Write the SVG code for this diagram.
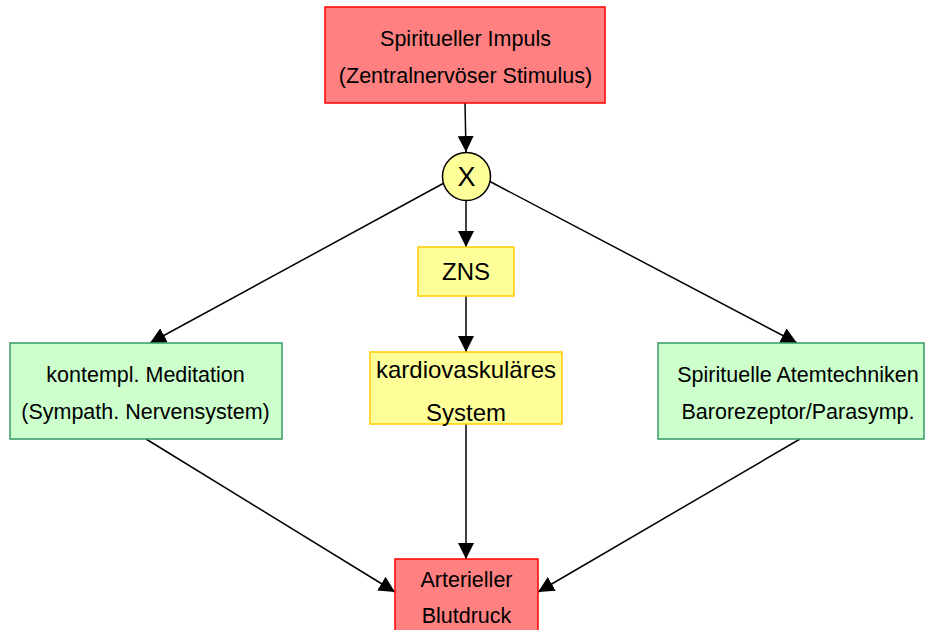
<svg xmlns="http://www.w3.org/2000/svg" width="926" height="630" viewBox="0 0 926 630">
<style>
text{font-family:"Liberation Sans",Arial,sans-serif;fill:#000;text-anchor:middle;font-size:21.5px}
.big{font-size:24px}
.red{fill:#ff8080;stroke:#ff0000;stroke-width:1.5}
.yel{fill:#ffff99;stroke:#ffcc00;stroke-width:1.5}
.grn{fill:#ccffcc;stroke:#339966;stroke-width:1.5}
.c{stroke:#000;stroke-width:1.5;fill:none;marker-end:url(#ah)}
</style>
<defs>
<marker id="ah" markerUnits="userSpaceOnUse" markerWidth="17" markerHeight="16" refX="16" refY="8" orient="auto">
<path d="M0,0 L16,8 L0,16 z" fill="#000"/>
</marker>
</defs>
<rect width="926" height="630" fill="#fff"/>
<g id="connectors">
<line class="c" x1="465" y1="103" x2="466" y2="152"/>
<line class="c" x1="466" y1="201" x2="466" y2="247"/>
<line class="c" x1="444" y1="183" x2="150" y2="343"/>
<line class="c" x1="489" y1="181" x2="797" y2="343"/>
<line class="c" x1="466" y1="296" x2="466" y2="352"/>
<line class="c" x1="466" y1="424" x2="466" y2="559"/>
<line class="c" x1="146" y1="439" x2="395" y2="592"/>
<line class="c" x1="800" y1="439" x2="538" y2="592"/>
</g>
<g id="impuls">
<rect class="red" x="325" y="7" width="280" height="96"/>
<text x="465.5" y="45.5">Spiritueller Impuls</text>
<text x="465.5" y="83">(Zentralnervöser Stimulus)</text>
</g>
<g id="x">
<circle cx="466.5" cy="176.5" r="24" fill="#ffff99" stroke="#000" stroke-width="1.5"/>
<text x="466.5" y="186" style="font-size:27px">X</text>
</g>
<g id="zns">
<rect class="yel" x="418" y="247" width="96" height="49"/>
<text class="big" x="466" y="280">ZNS</text>
</g>
<g id="kardio">
<rect class="yel" x="370" y="352" width="192" height="72"/>
<text class="big" x="466" y="378">kardiovaskuläres</text>
<text class="big" x="466" y="421">System</text>
</g>
<g id="meditation">
<rect class="grn" x="10" y="343" width="272" height="96"/>
<text x="145.5" y="382">kontempl. Meditation</text>
<text x="145.5" y="419">(Sympath. Nervensystem)</text>
</g>
<g id="atem">
<rect class="grn" x="658" y="343" width="266" height="96"/>
<text x="798" y="382">Spirituelle Atemtechniken</text>
<text x="798" y="419">Barorezeptor/Parasymp.</text>
</g>
<g id="blutdruck">
<rect class="red" x="395" y="559" width="143" height="80"/>
<text x="466.5" y="587">Arterieller</text>
<text x="466.5" y="623">Blutdruck</text>
</g>
</svg>
